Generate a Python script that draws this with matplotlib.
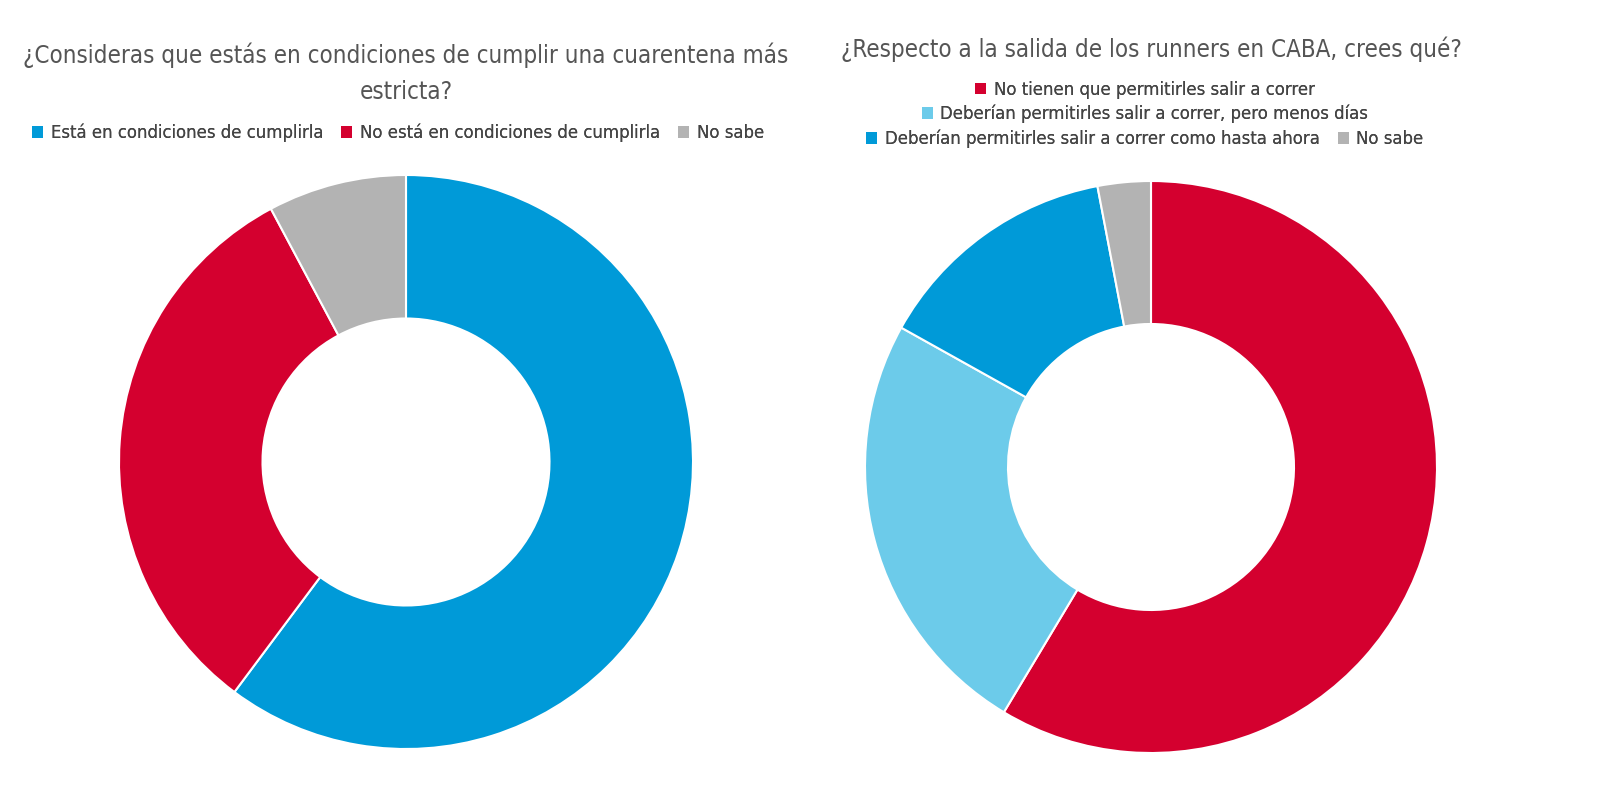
import matplotlib
matplotlib.use("Agg")
import matplotlib.pyplot as plt
from matplotlib.patches import Patch

plt.rcParams['font.family'] = ['DejaVu Sans']
plt.rcParams['font.stretch'] = 'condensed'

# left chart
left_title = "¿Consideras que estás en condiciones de cumplir una cuarentena más\nestricta?"
left_labels = ["Está en condiciones de cumplirla", "No está en condiciones de cumplirla", "No sabe"]
left_values = [60.2, 32.0, 7.8]
left_colors = ["#009ad8", "#d4002f", "#b3b3b3"]

# right chart
right_title = "¿Respecto a la salida de los runners en CABA, crees qué?"
right_labels = ["No tienen que permitirles salir a correr",
                "Deberían permitirles salir a correr, pero menos días",
                "Deberían permitirles salir a correr como hasta ahora",
                "No sabe"]
right_values = [58.6, 24.5, 13.9, 3.0]
right_colors = ["#d4002f", "#6ccbea", "#009ad8", "#b3b3b3"]

title_color = "#555555"
text_color = "#444444"

fig = plt.figure(figsize=(16, 8), dpi=100)
fig.patch.set_facecolor("white")


def donut(rect, values, colors):
    ax = fig.add_axes(rect)
    ax.pie(values, colors=colors, startangle=90, counterclock=False, radius=1.0,
           wedgeprops=dict(width=0.5, edgecolor="white", linewidth=1.5))
    ax.set_xlim(-1, 1)
    ax.set_ylim(-1, 1)
    ax.set_aspect("equal")
    ax.axis("off")
    return ax


# centers (px) and radii
lcx, lcy, lr = 406, 462, 287
rcx, rcy, rr = 1151, 467, 286
donut([(lcx - lr) / 1600, 1 - (lcy + lr) / 800, 2 * lr / 1600, 2 * lr / 800], left_values, left_colors)
donut([(rcx - rr) / 1600, 1 - (rcy + rr) / 800, 2 * rr / 1600, 2 * rr / 800], right_values, right_colors)

fig.text(lcx / 1600, 1 - 73 / 800, left_title, ha="center", va="center", fontsize=17.3,
         color=title_color, linespacing=1.65)
fig.text(rcx / 1600, 1 - 49 / 800, right_title, ha="center", va="center", fontsize=17.3,
         color=title_color)


def legend_row(labels, colors, x, y):
    handles = [Patch(facecolor=c, edgecolor="none") for c in colors]
    leg = fig.legend(handles, labels, loc="center", bbox_to_anchor=(x / 1600, 1 - y / 800),
                     ncol=len(labels), frameon=False, fontsize=13.2, handlelength=0.6,
                     handleheight=0.6, handletextpad=0.4, columnspacing=1.0,
                     labelcolor=text_color, borderpad=0)
    fig.add_artist(leg)


legend_row(left_labels, left_colors, lcx - 8, 133)
legend_row(right_labels[:1], right_colors[:1], rcx - 6, 90)
legend_row(right_labels[1:2], right_colors[1:2], rcx - 6, 114)
legend_row(right_labels[2:], right_colors[2:], rcx - 6, 139)

fig.savefig("out.png", dpi=100, facecolor="white")
